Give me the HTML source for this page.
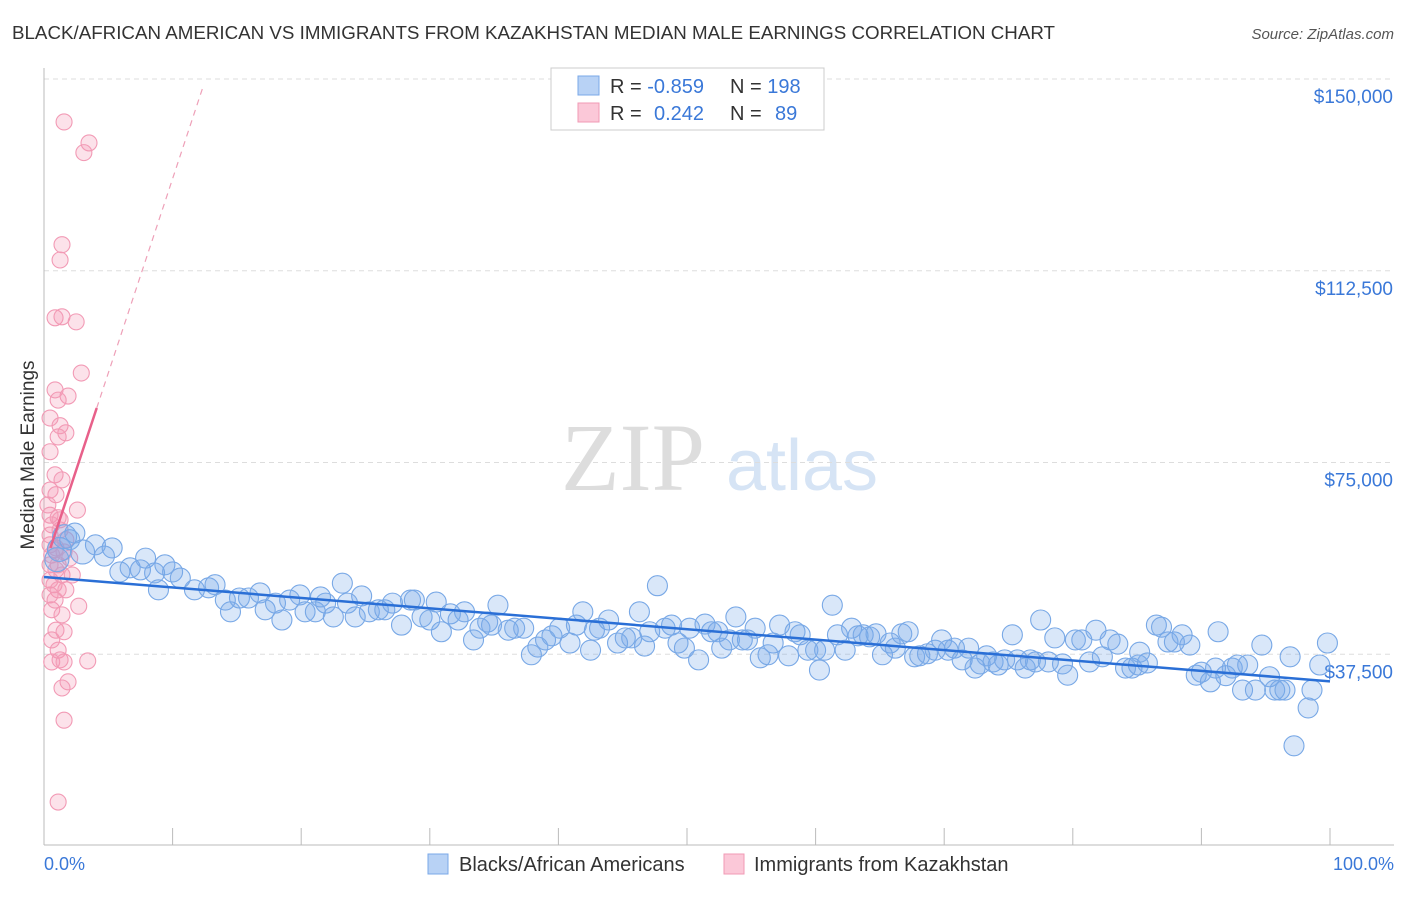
<!DOCTYPE html>
<html><head><meta charset="utf-8"><style>
body{margin:0;background:#fff;font-family:"Liberation Sans",sans-serif}
svg text{font-family:"Liberation Sans",sans-serif}
</style></head><body>
<svg id="chart" width="1406" height="892">
<text x="12" y="39" font-size="18" fill="#333" textLength="1043" lengthAdjust="spacingAndGlyphs">BLACK/AFRICAN AMERICAN VS IMMIGRANTS FROM KAZAKHSTAN MEDIAN MALE EARNINGS CORRELATION CHART</text>
<text x="1394" y="39" font-size="15" fill="#555" text-anchor="end" font-style="italic">Source: ZipAtlas.com</text>
<g>
<text x="633" y="490" font-size="96" fill="#ddd" text-anchor="middle" font-family="Liberation Serif" style="font-family:'Liberation Serif',serif">ZIP</text>
<text x="802" y="490" font-size="72" fill="#d6e4f5" text-anchor="middle">atlas</text>
</g>
<g id="grid"></g>
<g id="axes"></g>
<g id="pink"></g>
<g id="blue"></g>
<g id="lines"></g>
<text transform="translate(34,455) rotate(-90)" font-size="19" fill="#333" text-anchor="middle">Median Male Earnings</text>
<text x="44" y="870" font-size="18" fill="#3a78d8">0.0%</text>
<text x="1394" y="870" font-size="18" fill="#3a78d8" text-anchor="end">100.0%</text>
<g>
<rect x="551" y="68" width="273" height="62" fill="#fff" stroke="#ccc"/>
<rect x="578" y="76" width="21" height="19" fill="#b8d2f5" stroke="#7aa8e8"/>
<rect x="578" y="103" width="21" height="19" fill="#fbc8d8" stroke="#f09ab5"/>
<text x="610" y="93" font-size="20" fill="#333">R = <tspan fill="#3a78d8">-0.859</tspan><tspan x="730">N = </tspan><tspan fill="#3a78d8">198</tspan></text>
<text x="610" y="120" font-size="20" fill="#333">R = <tspan x="654" fill="#3a78d8">0.242</tspan><tspan x="730">N = </tspan><tspan x="775" fill="#3a78d8">89</tspan></text>
</g>
<g>
<rect x="428" y="854" width="20" height="20" fill="#b8d2f5" stroke="#7aa8e8"/>
<text x="459" y="871" font-size="20" fill="#333">Blacks/African Americans</text>
<rect x="724" y="854" width="20" height="20" fill="#fbc8d8" stroke="#f09ab5"/>
<text x="754" y="871" font-size="20" fill="#333">Immigrants from Kazakhstan</text>
</g>
</svg>
<script>
const yTicks=[37500,75000,112500,150000];
const yTickLabels=["$37,500","$75,000","$112,500","$150,000"];
const xTicks=[0,10,20,30,40,50,60,70,80,90,100];
const blueX=[2.4,2.0,4.0,5.3,4.7,5.9,6.7,7.9,7.5,8.6,9.4,10.0,10.6,8.9,11.7,12.8,13.3,14.1,14.5,15.2,15.9,16.8,17.2,18.0,18.5,19.1,19.9,20.3,21.1,21.5,21.9,22.5,23.2,23.6,24.2,24.7,25.3,26.0,26.5,27.1,27.8,28.5,28.8,29.4,30.0,30.5,30.9,31.6,32.2,32.7,33.4,33.9,34.5,34.8,35.3,36.1,36.6,37.3,37.9,38.4,39.0,39.5,40.1,40.9,41.4,41.9,42.5,42.8,43.2,43.9,44.6,45.2,45.7,46.3,46.7,47.1,47.7,48.3,48.8,49.3,49.8,50.2,50.9,51.4,51.9,52.4,52.7,53.3,53.8,54.3,54.7,55.3,55.7,56.3,56.7,57.2,57.9,58.4,58.8,59.4,60.0,60.3,60.7,61.3,61.7,62.3,62.8,63.3,63.7,64.2,64.7,65.2,65.8,66.2,66.7,67.2,67.7,68.1,68.7,69.3,69.8,70.3,70.8,71.4,71.9,72.4,72.8,73.3,73.8,74.2,74.7,75.3,75.7,76.3,76.7,77.1,77.5,78.1,78.6,79.2,79.6,80.2,80.7,81.3,81.8,82.3,82.9,83.5,84.1,84.6,85.1,85.2,85.8,86.5,86.9,87.4,87.9,88.5,89.1,89.6,90.0,90.7,91.3,91.1,91.9,92.4,92.8,93.2,93.6,94.2,94.7,95.3,95.7,96.1,96.5,96.9,97.2,98.3,98.6,99.2,99.8,1.2,1.6,3.0,1.0];
const blueY=[61.2,59.9,58.9,58.3,56.7,53.6,54.4,56.3,54.0,53.4,55.0,53.6,52.4,50.1,50.1,50.5,51.1,48.1,45.8,48.5,48.5,49.5,46.2,47.5,44.2,48.1,49.1,45.8,45.8,48.7,47.5,44.8,51.4,47.5,44.8,48.9,45.8,46.2,46.2,47.5,43.2,48.1,48.1,44.8,44.2,47.7,41.9,45.4,44.2,45.8,40.3,42.6,43.8,43.2,47.1,42.2,42.6,42.6,37.4,38.9,40.3,41.1,42.6,39.7,43.2,45.8,38.3,42.2,42.6,44.2,39.7,40.7,40.7,45.8,39.1,41.9,50.9,42.6,43.2,39.7,38.7,42.6,36.4,43.4,41.9,41.9,38.7,40.3,44.8,40.3,40.3,42.6,36.8,37.4,39.7,43.2,37.2,41.9,41.3,38.3,38.3,34.4,38.3,47.1,41.3,38.3,42.6,41.1,41.3,40.9,41.5,37.4,39.7,38.7,41.5,41.9,37.0,37.2,37.6,38.3,40.3,38.3,38.7,36.4,38.7,34.8,35.6,37.2,36.0,35.4,36.4,41.3,36.4,34.8,36.4,36.0,44.2,36.0,40.7,35.6,33.4,40.3,40.3,36.0,42.2,37.0,40.3,39.5,34.8,34.8,35.4,37.9,35.8,43.2,42.8,39.9,39.9,41.3,39.3,33.4,34.0,32.1,41.9,34.8,33.3,34.8,35.4,30.5,35.4,30.5,39.3,33.1,30.5,30.5,30.5,37.0,19.6,27.0,30.5,35.4,39.7,58.0,60.5,57.5,56.0];
const pinkX=[1.56,3.5,3.1,1.4,1.25,0.86,1.4,2.5,2.9,0.86,1.87,1.1,0.47,1.25,1.7,1.1,0.47,0.86,1.4,0.47,0.93,2.6,0.47,1.1,0.6,1.25,1.7,0.47,0.86,1.56,2.0,0.47,0.93,1.4,0.47,0.78,1.1,2.2,0.47,0.86,2.7,0.6,1.4,0.93,1.56,0.6,1.1,1.25,0.6,3.4,1.56,1.87,1.4,1.56,1.1,0.47,0.93,1.25,0.3,0.6,1.1,1.7];
const pinkY=[141.6,137.5,135.6,117.6,114.6,103.3,103.5,102.5,92.5,89.2,88.0,87.2,83.7,82.2,80.8,80.0,77.1,72.6,71.6,69.6,68.7,65.7,64.7,64.2,62.8,61.8,59.9,58.9,57.9,57.5,56.3,55.0,54.0,53.0,52.0,51.1,50.1,53.0,49.1,48.1,46.9,46.2,45.2,42.2,41.9,40.3,38.3,36.4,36.0,36.2,36.0,32.1,30.9,24.6,8.6,60.8,58.3,63.8,66.7,56.9,55.0,50.1];
const blueFit=[52.6,-0.204];
const pinkFit=[54.5,7.6];
const X0=44,X1=1330,Y0=846,YTOP=79;
const xs=p=>X0+(X1-X0)*p/100;
const ys=v=>Y0-(Y0-YTOP)*v/150000;
const NS="http://www.w3.org/2000/svg";
function mk(parent,tag,attrs){const e=document.createElementNS(NS,tag);for(const k in attrs)e.setAttribute(k,attrs[k]);document.getElementById(parent).appendChild(e);return e;}
yTicks.forEach((t,i)=>{
 const l=mk('grid','line',{x1:44,x2:1394,y1:ys(t),y2:ys(t),stroke:'#ddd','stroke-dasharray':'5,4'});
 
 
 const tx=mk('grid','text',{x:1393,y:ys(t)+24,'font-size':19,fill:'#3a78d8','text-anchor':'end'});
 tx.textContent=yTickLabels[i];
 
 
});
const ax=mk('axes','line',{x1:44,x2:44,y1:68,y2:845,stroke:'#bbb'});


const bx=mk('axes','line',{x1:44,x2:1394,y1:845,y2:845,stroke:'#bbb'});


xTicks.forEach(t=>{const l=mk('axes','line',{x1:xs(t),x2:xs(t),y1:828,y2:845,stroke:'#bbb'});
 
 });
pinkX.forEach((p,i)=>{const c=mk('pink','circle',{cx:xs(p),cy:ys(pinkY[i]*1000),r:8,fill:'rgba(244,150,180,0.28)',stroke:'#f29ab5','stroke-width':1.1});
 
 });
blueX.forEach((p,i)=>{const c=mk('blue','circle',{cx:xs(p),cy:ys(blueY[i]*1000),r:i>=blueX.length-4?12:10,fill:'rgba(120,170,235,0.28)',stroke:'#78a8e6','stroke-width':1.1});
 
 });
const bl=mk('lines','line',{x1:xs(0),y1:ys(blueFit[0]*1000),x2:xs(100),y2:ys((blueFit[0]+blueFit[1]*100)*1000),stroke:'#2a6fd6','stroke-width':2.5});


const pl=mk('lines','line',{x1:xs(0.5),y1:ys((pinkFit[0]+pinkFit[1]*0.5)*1000),x2:xs(4.1),y2:ys((pinkFit[0]+pinkFit[1]*4.1)*1000),stroke:'#e8608a','stroke-width':2.5});


const pd=mk('lines','line',{x1:xs(4.1),y1:ys((pinkFit[0]+pinkFit[1]*4.1)*1000),x2:xs(12.4),y2:ys((pinkFit[0]+pinkFit[1]*12.4)*1000),stroke:'#eea0b8','stroke-width':1.2,'stroke-dasharray':'6,5'});


</script>
</body></html>
